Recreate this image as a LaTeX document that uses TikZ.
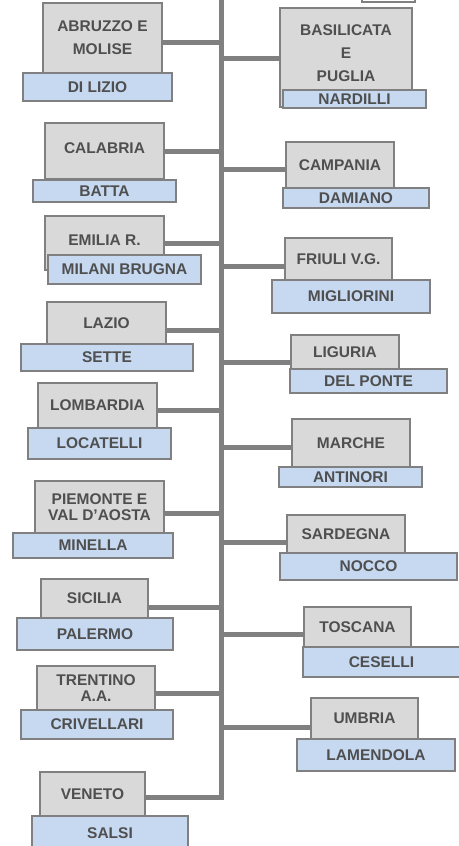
\documentclass[tikz,border=0pt]{standalone}
\usepackage{fontspec}
\usepackage{xcolor}
\newfontfamily\regfont{Liberation Sans}[BoldFont={Liberation Sans Bold}]
\definecolor{linegray}{HTML}{808080}
\definecolor{boxgray}{HTML}{D9D9D9}
\definecolor{boxblue}{HTML}{C6D9F1}
\definecolor{textgray}{HTML}{4F4F4F}
\tikzset{
  regbox/.style={draw=linegray, fill=boxgray, line width=2pt, inner sep=0pt, text=textgray,
    font=\regfont\bfseries\fontsize{15.5}{18}\selectfont, align=center},
  namebox/.style={regbox, fill=boxblue},
  branch/.style={draw=linegray, line width=5pt},
}

\begin{document}
\begin{tikzpicture}[x=1pt,y=1pt,yscale=-1,xscale=1]
    \useasboundingbox (0,0) rectangle (458,846);

    %Shape: Rectangle (cut off at the top)
    \draw [linegray, line width=2pt] (362,-12) rectangle (415,1.5);

    %Regions, left column
    \node [regbox, minimum width=119pt, minimum height=70pt] (abruzzo) at (102.5,38) {ABRUZZO E\\[5pt]MOLISE};
    \node [regbox, minimum width=119pt, minimum height=56pt, text depth=5pt] (calabria) at (104.5,151) {CALABRIA};
    \node [regbox, minimum width=119pt, minimum height=54pt, text depth=5pt] (emilia) at (104.5,243) {EMILIA R.};
    \node [regbox, minimum width=119pt, minimum height=42pt] (lazio) at (106.5,323) {LAZIO};
    \node [regbox, minimum width=119pt, minimum height=45pt] (lombardia) at (97.5,405.5) {LOMBARDIA};
    \node [regbox, minimum width=129pt, minimum height=52pt] (piemonte) at (99.5,507) {PIEMONTE E\\[-1.5pt]VAL D’AOSTA};
    \node [regbox, minimum width=107pt, minimum height=39pt] (sicilia) at (94.5,598.5) {SICILIA};
    \node [regbox, minimum width=118pt, minimum height=44pt] (trentino) at (96,688) {TRENTINO\\[-1.5pt]A.A.};
    \node [regbox, minimum width=105pt, minimum height=44pt] (veneto) at (92.5,794) {VENETO};

    %Regions, right column
    \node [regbox, minimum width=132pt, minimum height=99pt, text depth=8pt] (basilicata) at (346,57.5) {BASILICATA\\[5pt]E\\[5pt]PUGLIA};
    \node [regbox, minimum width=108pt, minimum height=46pt] (campania) at (340,165) {CAMPANIA};
    \node [regbox, minimum width=107pt, minimum height=42pt] (friuli) at (338.5,259) {FRIULI V.G.};
    \node [regbox, minimum width=108pt, minimum height=34pt] (liguria) at (345,352) {LIGURIA};
    \node [regbox, minimum width=118pt, minimum height=48pt] (marche) at (351,443) {MARCHE};
    \node [regbox, minimum width=118pt, minimum height=38pt] (sardegna) at (346,534) {SARDEGNA};
    \node [regbox, minimum width=107pt, minimum height=40pt] (toscana) at (357.5,627) {TOSCANA};
    \node [regbox, minimum width=107pt, minimum height=41pt] (umbria) at (364.5,718.5) {UMBRIA};

    %Names, left column
    \node [namebox, minimum width=149pt, minimum height=28pt] (dilizio) at (97.5,87) {DI LIZIO};
    \node [namebox, minimum width=143pt, minimum height=22pt] (batta) at (104.5,191) {BATTA};
    \node [namebox, minimum width=153pt, minimum height=29pt] (milani) at (124.5,269.5) {MILANI BRUGNA};
    \node [namebox, minimum width=172pt, minimum height=27pt] (sette) at (107,357.5) {SETTE};
    \node [namebox, minimum width=143pt, minimum height=31pt] (locatelli) at (99.5,443.5) {LOCATELLI};
    \node [namebox, minimum width=160pt, minimum height=25pt] (minella) at (93,545.5) {MINELLA};
    \node [namebox, minimum width=156pt, minimum height=32pt] (palermo) at (95,634) {PALERMO};
    \node [namebox, minimum width=152pt, minimum height=29pt] (crivellari) at (97,724.5) {CRIVELLARI};
    \node [namebox, minimum width=156pt, minimum height=34pt] (salsi) at (110,833) {SALSI};

    %Names, right column
    \node [namebox, minimum width=143pt, minimum height=18pt] (nardilli) at (354.5,99) {NARDILLI};
    \node [namebox, minimum width=146pt, minimum height=20pt] (damiano) at (356,198) {DAMIANO};
    \node [namebox, minimum width=158pt, minimum height=33pt] (migliorini) at (351,296.5) {MIGLIORINI};
    \node [namebox, minimum width=157pt, minimum height=24pt] (delponte) at (368.5,381) {DEL PONTE};
    \node [namebox, minimum width=143pt, minimum height=20pt] (antinori) at (350.5,477) {ANTINORI};
    \node [namebox, minimum width=177pt, minimum height=27pt] (nocco) at (368.5,566.5) {NOCCO};
    \node [namebox, minimum width=157pt, minimum height=30pt] (ceselli) at (381.5,662) {CESELLI};
    \node [namebox, minimum width=158pt, minimum height=32pt] (lamendola) at (376,755) {LAMENDOLA};

    %Trunk
    \coordinate (top) at (221.5,-5);
    \coordinate (t1) at (221.5,42);
    \coordinate (t2) at (221.5,58);
    \coordinate (t3) at (221.5,151);
    \coordinate (t4) at (221.5,169);
    \coordinate (t5) at (221.5,243);
    \coordinate (t6) at (221.5,266);
    \coordinate (t7) at (221.5,330);
    \coordinate (t8) at (221.5,362);
    \coordinate (t9) at (221.5,410);
    \coordinate (t10) at (221.5,447);
    \coordinate (t11) at (221.5,513);
    \coordinate (t12) at (221.5,542);
    \coordinate (t13) at (221.5,607);
    \coordinate (t14) at (221.5,634);
    \coordinate (t15) at (221.5,693);
    \coordinate (t16) at (221.5,727);
    \coordinate (t17) at (221.5,797);
    \draw [branch] (top) -- (t17) -- (t17 -| veneto.east);

    %Branches
    \draw [branch] (t1) -- (t1 -| abruzzo.east);
    \draw [branch] (t2) -- (t2 -| basilicata.west);
    \draw [branch] (t3) -- (t3 -| calabria.east);
    \draw [branch] (t4) -- (t4 -| campania.west);
    \draw [branch] (t5) -- (t5 -| emilia.east);
    \draw [branch] (t6) -- (t6 -| friuli.west);
    \draw [branch] (t7) -- (t7 -| lazio.east);
    \draw [branch] (t8) -- (t8 -| liguria.west);
    \draw [branch] (t9) -- (t9 -| lombardia.east);
    \draw [branch] (t10) -- (t10 -| marche.west);
    \draw [branch] (t11) -- (t11 -| piemonte.east);
    \draw [branch] (t12) -- (t12 -| sardegna.west);
    \draw [branch] (t13) -- (t13 -| sicilia.east);
    \draw [branch] (t14) -- (t14 -| toscana.west);
    \draw [branch] (t15) -- (t15 -| trentino.east);
    \draw [branch] (t16) -- (t16 -| umbria.west);

\end{tikzpicture}
\end{document}
